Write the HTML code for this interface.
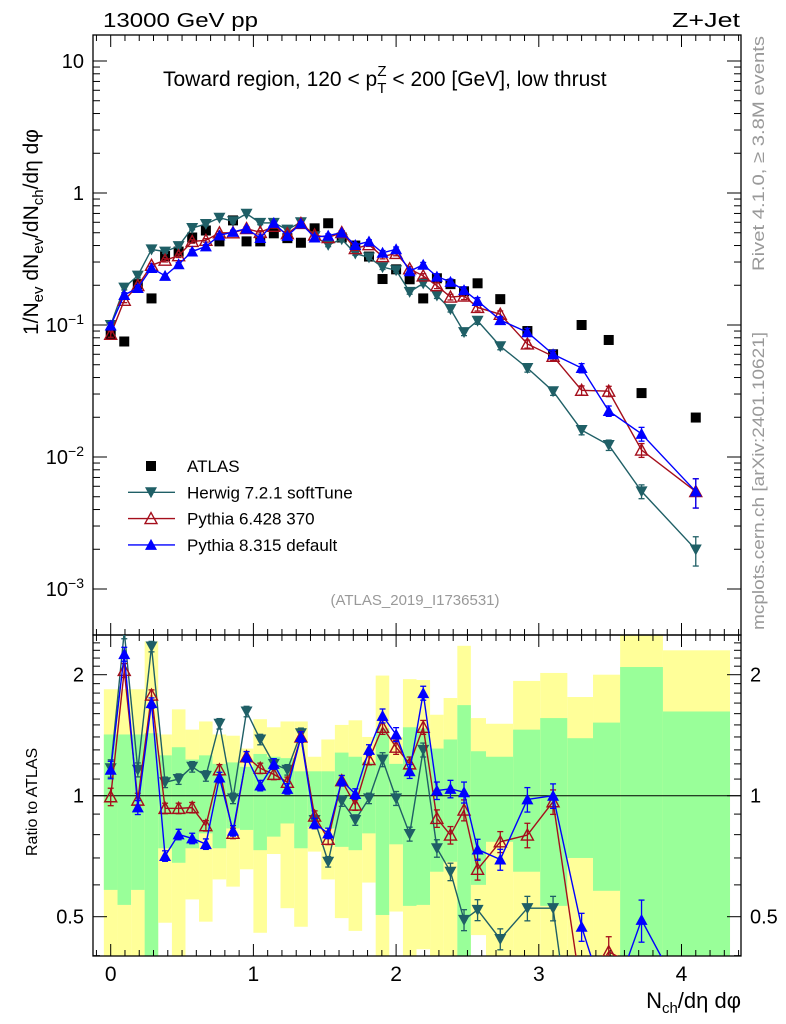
<!DOCTYPE html>
<html><head><meta charset="utf-8"><style>
html,body{margin:0;padding:0;background:#fff;width:786px;height:1024px;overflow:hidden;}
svg{display:block;font-family:"Liberation Sans",Arial,sans-serif;}
</style></head><body>
<svg id="chart" width="786" height="1024" viewBox="0 0 786 1024" xmlns="http://www.w3.org/2000/svg">
<g id="bands"></g>
<g id="grid"></g>
<g id="series"></g>
<text x="103" y="27" font-size="20" textLength="155" lengthAdjust="spacingAndGlyphs">13000 GeV pp</text>
<text x="672" y="27" font-size="20" textLength="68" lengthAdjust="spacingAndGlyphs">Z+Jet</text>
<text x="163" y="86" font-size="21">Toward region, 120 &lt; p<tspan font-size="15" dy="7">T</tspan><tspan font-size="15" dx="-9" dy="-17">Z</tspan><tspan dy="10"> &lt; 200 [GeV], low thrust</tspan></text>
<text x="415" y="605" font-size="15" fill="#999" text-anchor="middle">(ATLAS_2019_I1736531)</text>
<text transform="translate(764,36) rotate(-90)" font-size="17" fill="#999" text-anchor="end" textLength="235" lengthAdjust="spacingAndGlyphs">Rivet 4.1.0, ≥ 3.8M events</text>
<text transform="translate(764,332) rotate(-90)" font-size="17" fill="#999" text-anchor="end" textLength="298" lengthAdjust="spacingAndGlyphs">mcplots.cern.ch [arXiv:2401.10621]</text>
<text transform="translate(38,335) rotate(-90)" font-size="21">1/N<tspan font-size="15" dy="5">ev</tspan><tspan dy="-5"> dN</tspan><tspan font-size="15" dy="5">ev</tspan><tspan dy="-5">/dN</tspan><tspan font-size="15" dy="5">ch</tspan><tspan dy="-5">/dη dφ</tspan></text>
<text transform="translate(37,856) rotate(-90)" font-size="16">Ratio to ATLAS</text>
<text x="741" y="1008" font-size="22" text-anchor="end">N<tspan font-size="15" dy="5">ch</tspan><tspan dy="-5">/dη dφ</tspan></text>
<g id="legend"></g>
</svg>
<script>
const xVals=[0,0.095,0.19,0.286,0.381,0.476,0.571,0.667,0.762,0.857,0.952,1.048,1.143,1.238,1.333,1.429,1.524,1.619,1.714,1.81,1.905,2.0,2.095,2.19,2.286,2.381,2.476,2.571,2.73,2.92,3.10,3.30,3.49,3.72,4.10];
const binEdges=[-0.048,0.048,0.143,0.238,0.333,0.429,0.524,0.619,0.714,0.81,0.905,1.0,1.095,1.19,1.286,1.381,1.476,1.571,1.667,1.762,1.857,1.952,2.048,2.143,2.238,2.333,2.429,2.524,2.63,2.82,3.01,3.20,3.38,3.57,3.87,4.34];
const atlasVals=[0.0855,0.075,0.204,0.159,0.333,0.36,0.46,0.52,0.43,0.62,0.43,0.43,0.495,0.455,0.42,0.54,0.59,0.46,0.40,0.33,0.223,0.264,0.222,0.159,0.226,0.204,0.18,0.207,0.157,0.090,0.060,0.10,0.077,0.0305,0.0199];
const herwigRatio=[1.17,2.56,1.16,2.35,1.08,1.10,1.18,1.12,1.51,0.985,1.62,1.38,1.20,1.16,1.43,0.87,0.685,0.97,0.87,0.985,1.23,0.985,0.803,1.30,0.74,0.647,0.491,0.52,0.44,0.525,0.525,0.16,0.16,0.18,0.10];
const py6Ratio=[0.994,2.05,0.975,1.78,0.93,0.93,0.934,0.842,1.16,0.806,1.25,1.17,1.13,1.08,1.40,0.89,0.779,1.09,0.948,1.23,1.48,1.32,1.20,1.48,0.878,0.798,0.921,0.656,0.768,0.798,0.966,0.32,0.409,0.37,0.275];
const py8Ratio=[1.16,2.25,0.935,1.70,0.708,0.801,0.783,0.758,1.11,0.818,1.25,1.06,1.20,1.04,1.40,0.853,0.806,1.09,1.01,1.30,1.58,1.42,1.15,1.80,1.03,1.04,1.02,0.735,0.694,0.979,1.0,0.472,0.29,0.491,0.275];
const mcRelErr=[0.05,0.04,0.04,0.03,0.03,0.03,0.03,0.03,0.03,0.03,0.03,0.03,0.03,0.03,0.03,0.03,0.03,0.03,0.03,0.03,0.04,0.04,0.04,0.04,0.05,0.05,0.06,0.06,0.06,0.07,0.07,0.08,0.09,0.12,0.25];
const yellowHi=[1.84,1.84,1.84,2.42,1.42,1.64,1.46,1.53,1.42,1.41,1.31,1.55,1.48,1.53,1.53,1.25,1.38,1.50,1.54,1.40,1.99,1.40,1.95,1.94,1.59,1.75,2.36,1.56,1.51,1.93,2.02,1.76,2.00,2.6,2.3];
const greenHi=[1.42,1.42,1.42,1.43,1.26,1.32,1.23,1.26,1.20,1.21,1.18,1.27,1.25,1.24,1.15,1.15,1.15,1.28,1.25,1.21,1.47,1.20,1.48,1.47,1.31,1.38,1.68,1.29,1.25,1.46,1.56,1.39,1.52,2.09,1.62];
const greenLo=[0.583,0.535,0.583,0.40,0.740,0.681,0.740,0.806,0.740,0.829,0.822,0.732,0.791,0.853,0.740,0.837,0.829,0.746,0.732,0.806,0.505,0.757,0.532,0.535,0.647,0.685,0.40,0.60,0.768,0.647,0.532,0.70,0.58,0.40,0.40];
const yellowLo=[0.40,0.40,0.40,0.40,0.483,0.40,0.552,0.486,0.619,0.594,0.656,0.456,0.716,0.525,0.472,0.726,0.619,0.496,0.461,0.608,0.40,0.515,0.40,0.415,0.40,0.40,0.40,0.45,0.40,0.40,0.40,0.40,0.40,0.40,0.40];
const mainTicks=["10","1","10⁻¹","10⁻²","10⁻³"];
const mainTickVals=[10,1,0.1,0.01,0.001];
const ratioTickVals=[2,1,0.5];
const xTickVals=[0,1,2,3,4];

const NS="http://www.w3.org/2000/svg";
const L=93,R=741,T=35,MB=635,RB=956;
const X=v=>110.7+v*142.7;
const Ym=v=>193-132*Math.log10(v);
const Yr=v=>795.7-121*Math.log2(v);
function mk(tag,attrs,parent){const e=document.createElementNS(NS,tag);for(const k in attrs)e.setAttribute(k,attrs[k]);parent.appendChild(e);return e;}
const bands=document.getElementById('bands'),grid=document.getElementById('grid'),ser=document.getElementById('series'),leg=document.getElementById('legend');
function yr(v){return Math.min(RB,Math.max(MB,Yr(v)));}
for(let i=0;i<atlasVals.length;i++){
  const x0=Math.max(L,X(binEdges[i])),x1=X(binEdges[i+1]);
  let r=mk('rect',{x:x0,y:yr(yellowHi[i]),width:x1-x0,height:yr(yellowLo[i])-yr(yellowHi[i]),fill:'#ffff99'},bands);
  
  
  r=mk('rect',{x:x0,y:yr(greenHi[i]),width:x1-x0,height:yr(greenLo[i])-yr(greenHi[i]),fill:'#99ff99'},bands);
  
  
}
for(const [t,b] of [[T,MB],[MB,RB]]){const f=mk('rect',{x:L,y:t,width:R-L,height:b-t,fill:'none',stroke:'#000','stroke-width':1.3},grid);

}
const one=mk('line',{x1:L,x2:R,y1:Yr(1),y2:Yr(1),stroke:'#000','stroke-width':1},grid);


for(let v=-0.1;v<=4.4;v+=0.1){const vv=Math.round(v*10)/10;const x=X(vv);if(x<L||x>R)continue;const major=Math.abs(vv-Math.round(vv))<1e-6;const len=major?12:6;
 for(const [t,b] of [[T,MB],[MB,RB]]){mk('line',{x1:x,x2:x,y1:b,y2:b-len,stroke:'#000'},grid);mk('line',{x1:x,x2:x,y1:t,y2:t+len,stroke:'#000'},grid);}}
xTickVals.forEach(v=>{const t=mk('text',{x:X(v),y:981,'font-size':21,'text-anchor':'middle'},grid);t.textContent=v;

});
for(let d=-3;d<=1;d++){for(let m=1;m<10;m++){const v=m*Math.pow(10,d);const y=Ym(v);if(y<T||y>MB)continue;const len=m==1?14:7;
 mk('line',{x1:L,x2:L+len,y1:y,y2:y,stroke:'#000'},grid);mk('line',{x1:R,x2:R-len,y1:y,y2:y,stroke:'#000'},grid);}}
mainTicks.forEach((s,i)=>{const t=mk('text',{x:84,y:Ym(mainTickVals[i])+7,'font-size':20,'text-anchor':'end'},grid);
 if(s.includes('⁻')){t.textContent='10';const sp=mk('tspan',{'font-size':14,dy:-8},t);sp.textContent='−'+(['','','1','2','3'][i]);}else t.textContent=s;
 
 });
for(let v=0.4;v<=2.5;v+=0.1){const vv=Math.round(v*10)/10;const y=Yr(vv);if(y<MB||y>RB)continue;const major=[0.5,1,2].includes(vv);const len=major?14:7;
 mk('line',{x1:L,x2:L+len,y1:y,y2:y,stroke:'#000'},grid);mk('line',{x1:R,x2:R-len,y1:y,y2:y,stroke:'#000'},grid);}
ratioTickVals.forEach(v=>{for(const [x,a] of [[84,'end'],[750,'start']]){const t=mk('text',{x:x,y:Yr(v)+7,'font-size':20,'text-anchor':a},grid);t.textContent=v;

}});
function marker(kind,color,x,y,p){
 if(kind==='sq')return mk('rect',{x:x-5,y:y-5,width:10,height:10,fill:'#000'},p);
 if(kind==='down')return mk('polygon',{points:`${x-6},${y-5} ${x+6},${y-5} ${x},${y+6}`,fill:color},p);
 if(kind==='upOpen')return mk('polygon',{points:`${x-6},${y+5} ${x+6},${y+5} ${x},${y-6}`,fill:'none',stroke:color,'stroke-width':1.4},p);
 return mk('polygon',{points:`${x-6},${y+5} ${x+6},${y+5} ${x},${y-6}`,fill:color},p);}
// clip a segment to [ymin,ymax]
function clipSeg(x1,y1,x2,y2,ymin,ymax){
 let t0=0,t1=1;const dy=y2-y1;
 const upd=(p,q)=>{if(p===0)return q>=0;const r=q/p;if(p<0){if(r>t1)return false;if(r>t0)t0=r;}else{if(r<t0)return false;if(r<t1)t1=r;}return true;};
 if(!upd(-dy,y1-ymin))return null;if(!upd(dy,ymax-y1))return null;
 return [x1+(x2-x1)*t0,y1+dy*t0,x1+(x2-x1)*t1,y1+dy*t1];}
const seriesDefs=[{name:'herwig',ratio:herwigRatio,color:'#1f5f66',kind:'down'},{name:'pythia6',ratio:py6Ratio,color:'#a50f1c',kind:'upOpen'},{name:'pythia8',ratio:py8Ratio,color:'#0000ff',kind:'up'}];
atlasVals.forEach((v,i)=>{const m=marker('sq','#000',X(xVals[i]),Ym(v),ser);

});
const clip=mk('clipPath',{id:'rclip'},ser);mk('rect',{x:L,y:MB,width:R-L,height:RB-MB},clip);
const clipM=mk('clipPath',{id:'mclip'},ser);mk('rect',{x:L,y:T,width:R-L,height:MB-T},clipM);
seriesDefs.forEach(s=>{
 const gm=mk('g',{'clip-path':'url(#mclip)'},ser);
 
 
 const gr=mk('g',{'clip-path':'url(#rclip)'},ser);
 
 
 const vals=s.ratio.map((r,i)=>r*atlasVals[i]);
 mk('polyline',{points:vals.map((v,i)=>X(xVals[i])+','+Ym(v)).join(' '),fill:'none',stroke:s.color,'stroke-width':1.4},gm);
 for(let i=0;i+1<s.ratio.length;i++){
  const c=clipSeg(X(xVals[i]),Yr(s.ratio[i]),X(xVals[i+1]),Yr(s.ratio[i+1]),MB-20,RB+10);
  if(c)mk('line',{x1:c[0],y1:c[1],x2:c[2],y2:c[3],stroke:s.color,'stroke-width':1.4},gr);
 }
 vals.forEach((v,i)=>{const x=X(xVals[i]),e=mcRelErr[i];
  for(const [g,f,val,isR] of [[gm,Ym,v,false],[gr,Yr,s.ratio[i],true]]){
   const yc=f(val);
   if(isR&&(yc>RB+10||yc<MB-20))continue;
   const y1=f(val*(1+e)),y2=f(val*(1-e));
   mk('line',{x1:x,x2:x,y1:y1,y2:y2,stroke:s.color,'stroke-width':1.3},g);
   mk('line',{x1:x-3,x2:x+3,y1:y1,y2:y1,stroke:s.color,'stroke-width':1.3},g);
   mk('line',{x1:x-3,x2:x+3,y1:y2,y2:y2,stroke:s.color,'stroke-width':1.3},g);
   const m=marker(s.kind,s.color,x,yc,g);
   
   }
 });
});
const legItems=[['ATLAS','sq','#000'],['Herwig 7.2.1 softTune','down','#1f5f66'],['Pythia 6.428 370','upOpen','#a50f1c'],['Pythia 8.315 default','up','#0000ff']];
legItems.forEach((it,i)=>{const y=466+i*26.3;const g=mk('g',{},leg);
 
 
 if(i>0){mk('line',{x1:128,x2:175,y1:y,y2:y,stroke:it[2],'stroke-width':1.4},g);}
 marker(it[1],it[2],151,y,g);
 const t=mk('text',{x:187,y:y+6,'font-size':17},g);t.textContent=it[0];});
</script>
</body></html>
